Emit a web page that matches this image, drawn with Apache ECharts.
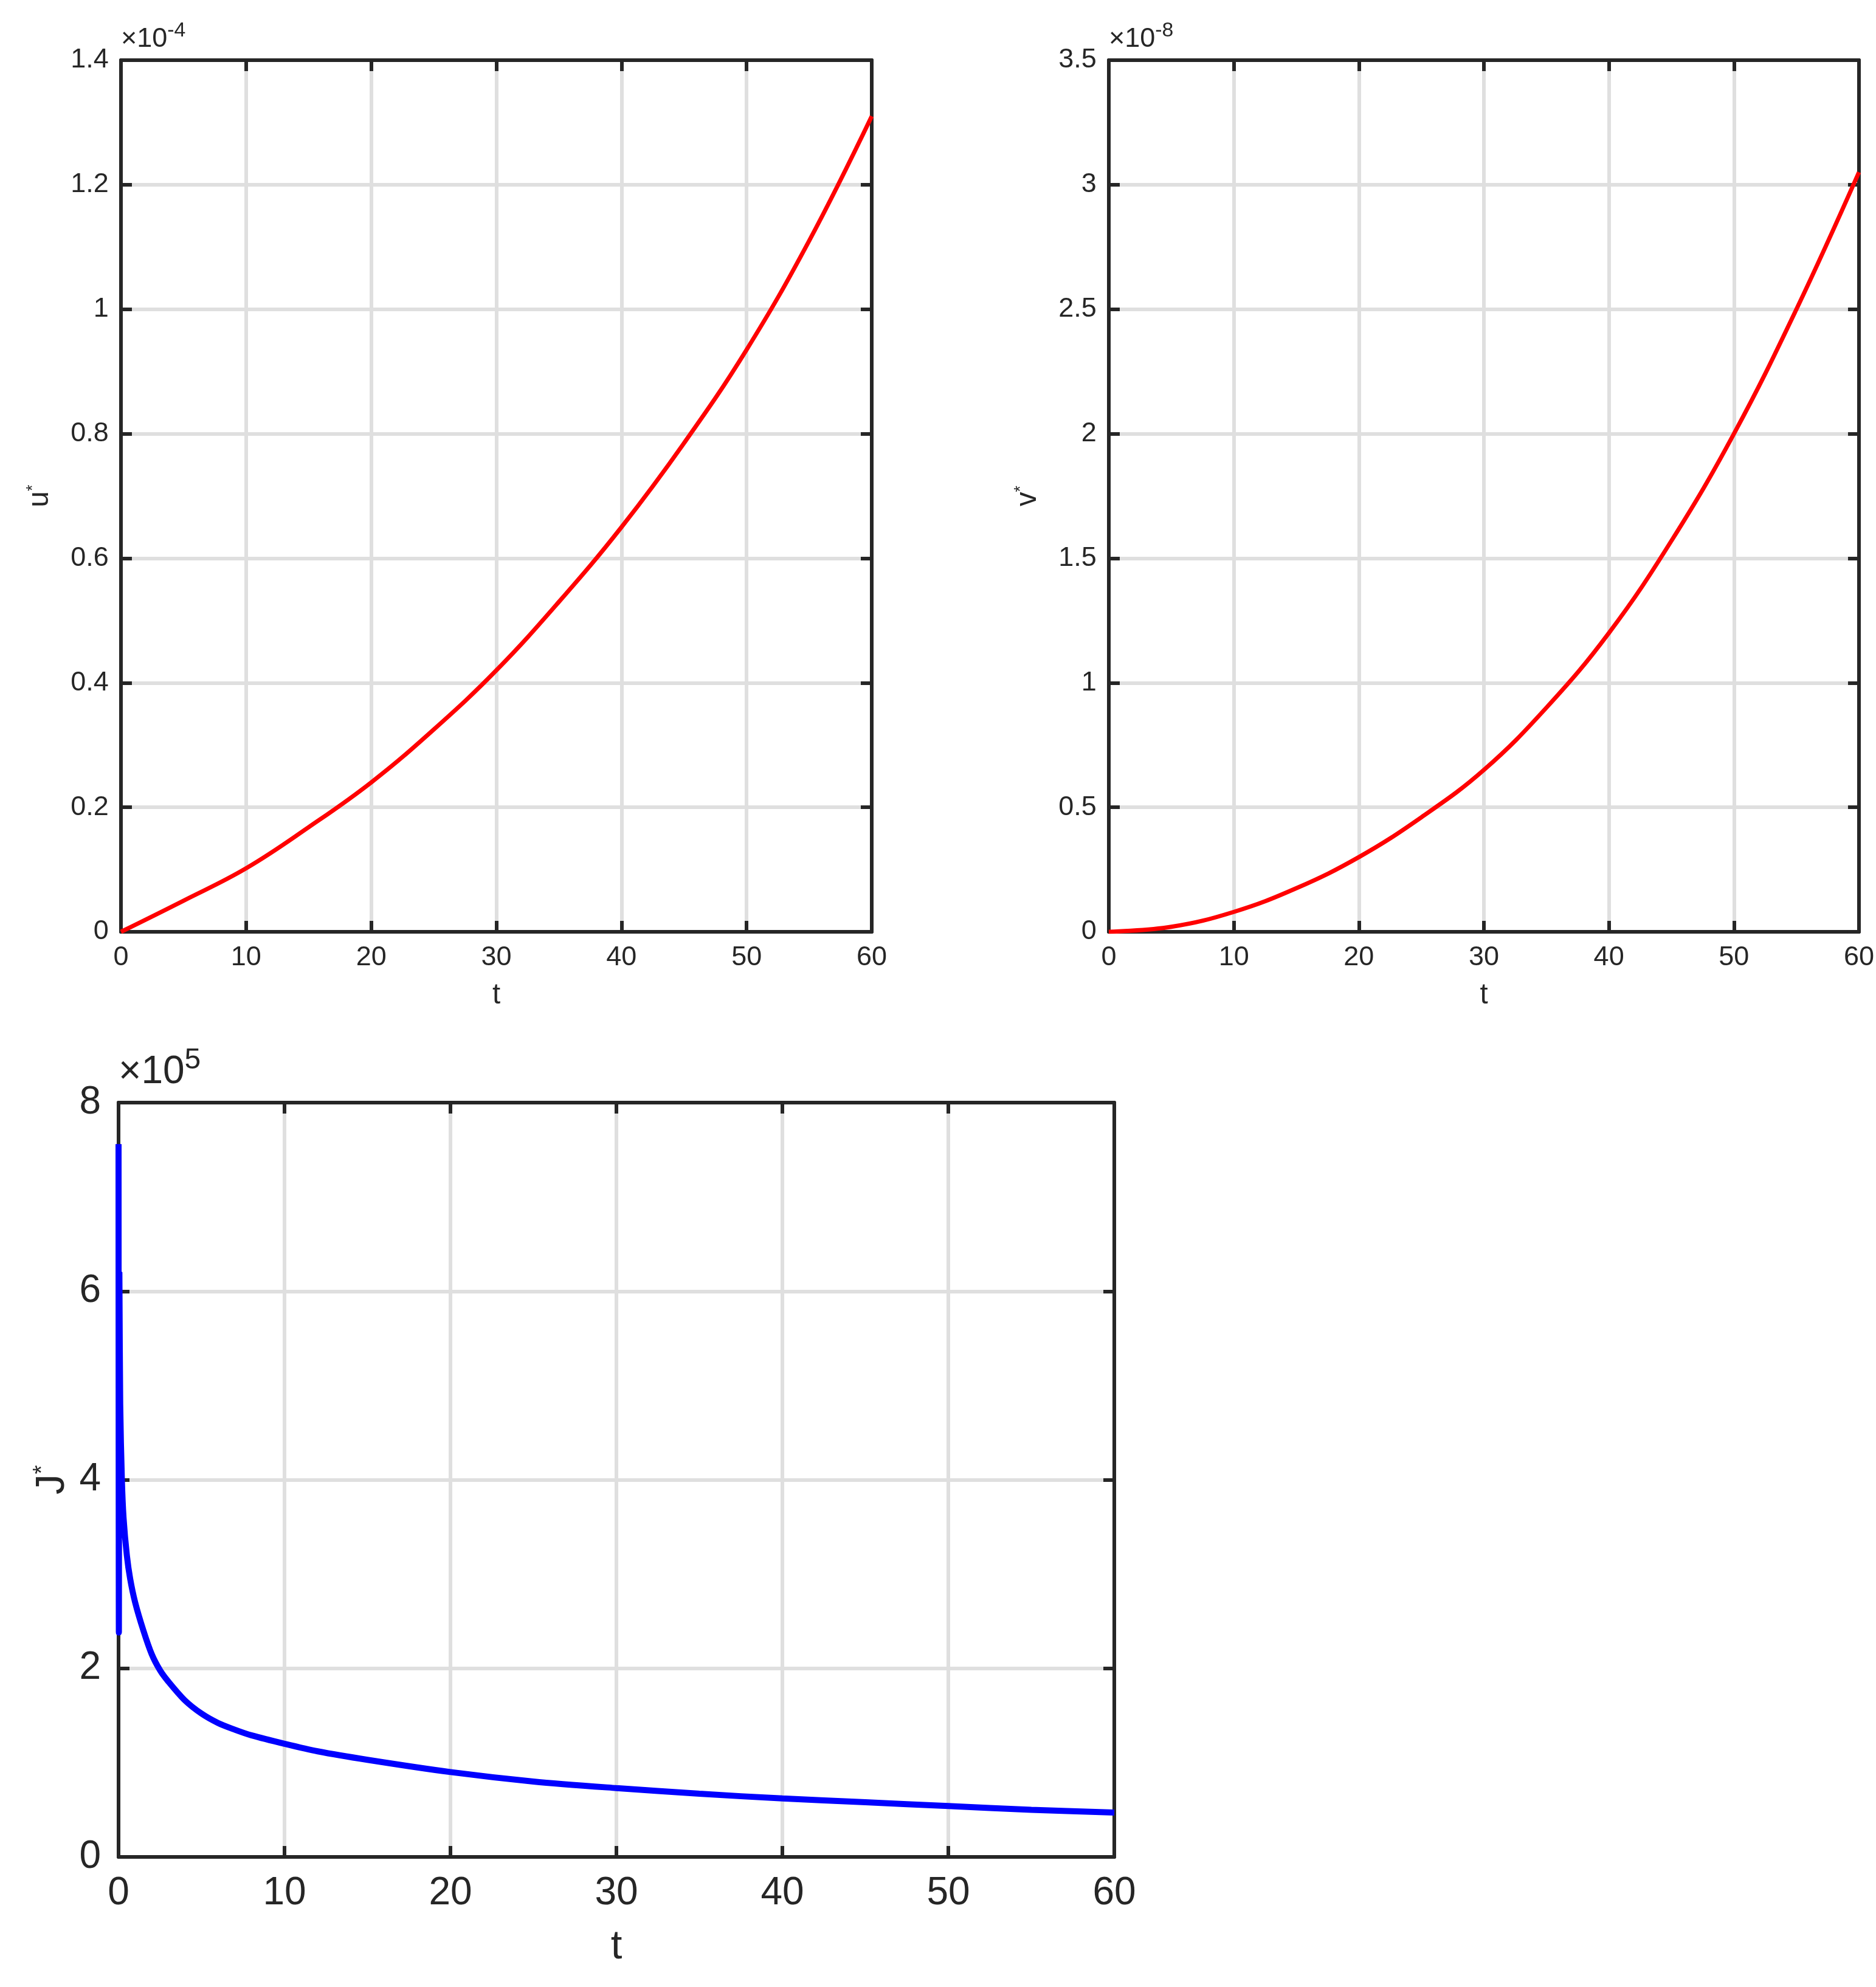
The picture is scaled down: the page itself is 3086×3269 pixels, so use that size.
<!DOCTYPE html>
<html><head><meta charset="utf-8">
<script src="https://cdn.jsdelivr.net/npm/echarts@6/dist/echarts.min.js"></script>
<style>html,body{margin:0;padding:0;background:#fff}#c{width:3086px;height:3269px}</style>
</head><body><div id="c"></div>
<script>
const uT = [0,5,10,15,20,25,30,35,40,45,50,55,60];
const uVals = [0,0.05,0.102,0.168,0.24,0.325,0.42,0.53,0.65,0.785,0.935,1.11,1.31];
const vT = [0,5,10,15,20,25,30,35,40,45,50,55,60];
const vVals = [0,0.02,0.08,0.175,0.3,0.46,0.65,0.9,1.2,1.57,2.0,2.5,3.05];
const jT = [0,0.02,0.05,0.1,0.2,0.3,0.5,0.7,1,1.5,2,2.5,3,4,5,6,7,8,10,12,15,20,25,30,35,40,45,50,55,60];
const jVals = [7.56,2.38,6.2,4.8,4.0,3.6,3.2,2.95,2.7,2.4,2.15,1.98,1.86,1.66,1.52,1.42,1.35,1.29,1.2,1.12,1.03,0.9,0.8,0.73,0.67,0.62,0.58,0.54,0.5,0.47];

const ch = echarts.init(document.getElementById('c'));
const dark = '#262626', gridC = '#dfdfdf', FF = 'Liberation Sans, Arial, sans-serif';
const grids = [
  {left:199, width:1235, top:99, height:1434, fs:45, lw:7, color:'#ff0000', ymax:1.4, yint:0.2, name:'u', exp:'-4', t:uT, v:uVals},
  {left:1824, width:1236, top:99, height:1434, fs:45, lw:7, color:'#ff0000', ymax:3.5, yint:0.5, name:'v', exp:'-8', t:vT, v:vVals},
  {left:195, width:1638, top:1814, height:1241, fs:64, lw:10, color:'#0000ff', ymax:8, yint:2, name:'J', exp:'5', t:jT, v:jVals}
];
const opt = {animation:false, backgroundColor:'#fff', grid:[], xAxis:[], yAxis:[], series:[], graphic:[]};
grids.forEach((g,i)=>{
  opt.grid.push({left:g.left, top:g.top, width:g.width, height:g.height, show:false});
  const axl = {show:true, onZero:false, lineStyle:{color:dark, width:6}};
  const tick = {show:true, inside:true, length:18, lineStyle:{color:dark, width:6}};
  const sl = {show:true, showMinLine:false, showMaxLine:false, lineStyle:{color:gridC, width:6}};
  opt.xAxis.push({gridIndex:i, type:'value', min:0, max:60, interval:10, position:'bottom',
    axisLine:axl, axisTick:tick, splitLine:sl,
    axisLabel:{fontSize:g.fs, color:dark, fontFamily:FF, margin:g.fs*0.45},
    name:'t', nameLocation:'middle', nameGap:g.fs*1.8, nameTextStyle:{fontSize:g.fs*1.05, color:dark, fontFamily:FF}});
  opt.xAxis.push({gridIndex:i, type:'value', min:0, max:60, interval:10, position:'top',
    axisLine:axl, axisTick:tick, splitLine:{show:false}, axisLabel:{show:false}});
  opt.yAxis.push({gridIndex:i, type:'value', min:0, max:g.ymax, interval:g.yint, position:'left',
    axisLine:axl, axisTick:tick, splitLine:sl,
    axisLabel:{fontSize:g.fs, color:dark, fontFamily:FF, margin:g.fs*0.45},
    name:'{a|'+g.name+'}{s|*}', nameLocation:'middle', nameGap: i==2?g.fs*1.1:g.fs*2.4, nameRotate:90,
    nameTextStyle:{color:dark, fontFamily:FF, rich:{a:{fontSize:g.fs*1.05,color:dark,fontFamily:FF}, s:{fontSize:g.fs*0.6,color:dark,fontFamily:FF,verticalAlign:'top',padding:[0,0,g.fs*0.5,0]}}}});
  opt.yAxis.push({gridIndex:i, type:'value', min:0, max:g.ymax, interval:g.yint, position:'right',
    axisLine:axl, axisTick:tick, splitLine:{show:false}, axisLabel:{show:false}});
  opt.series.push({type:'line', xAxisIndex:2*i, yAxisIndex:2*i, showSymbol:false, smooth:i==2?0.3:0.4,
    lineStyle:{color:g.color, width:g.lw}, data:g.t.map((t,k)=>[t,g.v[k]]), z:5});
  opt.graphic.push({type:'text', left:g.left, top:g.top - g.fs*1.45,
    style:{rich:{m:{fontSize:g.fs,fill:dark,fontFamily:FF}, e:{fontSize:g.fs*0.75,fill:dark,fontFamily:FF,verticalAlign:'top',padding:[0,0,g.fs*0.6,0]}},
      text:'{m|\u00d710}{e|'+g.exp+'}'}});
});
ch.setOption(opt);
</script></body></html>
